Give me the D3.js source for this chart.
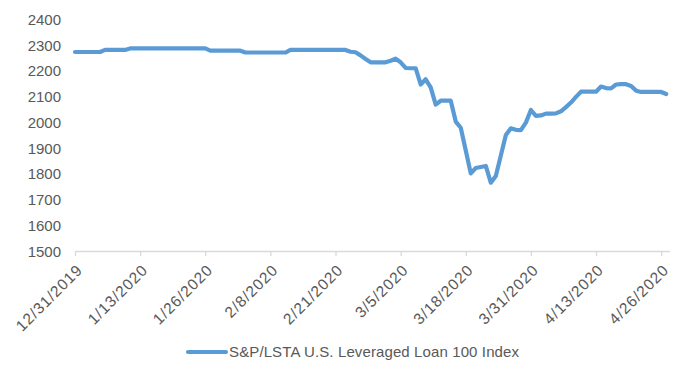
<!DOCTYPE html>
<html>
<head>
<meta charset="utf-8">
<script src="https://cdn.jsdelivr.net/npm/d3@7/dist/d3.min.js"></script>
<style>
  html, body { margin: 0; padding: 0; background: #fff; }
  svg { display: block; font-family: "Liberation Sans", Arial, sans-serif; }
</style>
</head>
<body>
<svg id="chart" width="700" height="380"></svg>
<script>
// ---- data ----
const startDate = "12/31/2019";
const seriesName = "S&P/LSTA U.S. Leveraged Loan 100 Index";
const indexValues = [
  2272, 2272, 2272, 2272, 2272, 2272, 2280, 2280, 2280, 2280,
  2280, 2286, 2286, 2286, 2286, 2286, 2286, 2286, 2286, 2286,
  2286, 2286, 2286, 2286, 2286, 2286, 2286, 2277, 2277, 2277,
  2277, 2277, 2277, 2277, 2270, 2270, 2270, 2270, 2270, 2270,
  2270, 2270, 2270, 2280, 2280, 2280, 2280, 2280, 2280, 2280,
  2280, 2280, 2280, 2280, 2280, 2273, 2271, 2259, 2245, 2232,
  2232, 2232, 2232, 2238, 2246, 2232, 2210, 2209, 2209, 2146,
  2166, 2135, 2068, 2083, 2083, 2083, 2002, 1978, 1890, 1801,
  1822, 1826, 1830, 1765, 1791, 1870, 1950, 1976, 1970, 1969,
  1998, 2047, 2024, 2026, 2033, 2033, 2034, 2042, 2058, 2076,
  2098, 2118, 2118, 2118, 2118, 2138, 2132, 2131, 2146, 2147,
  2147, 2140, 2122, 2117, 2117, 2117, 2117, 2117, 2109
];
const xTickLabels = ["12/31/2019", "1/13/2020", "1/26/2020", "2/8/2020", "2/21/2020",
                     "3/5/2020", "3/18/2020", "3/31/2020", "4/13/2020", "4/26/2020"];
const yTickValues = [1500, 1600, 1700, 1800, 1900, 2000, 2100, 2200, 2300, 2400];

// ---- build ----
const parse = d3.timeParse("%m/%d/%Y");
const fmt = d3.timeFormat("%-m/%-d/%Y");
const start = parse(startDate);
const data = indexValues.map((v, i) => ({ date: d3.timeDay.offset(start, i), value: v }));
const lastDate = data[data.length - 1].date;

const svg = d3.select("#chart");
const x = d3.scaleTime()
  .domain([start, d3.timeHour.offset(lastDate, 16)])
  .range([75, 669.5]);
const y = d3.scaleLinear().domain([1500, 2400]).range([251, 19]);

const textColor = "#595959";
const axisColor = "#d9d9d9";
const lineColor = "#5b9bd5";

// y axis
const yAxis = svg.append("g")
  .attr("transform", "translate(61,0)")
  .call(d3.axisLeft(y).tickValues(yTickValues).tickSize(0).tickPadding(0).tickFormat(d3.format("d")));
yAxis.select(".domain").remove();
yAxis.selectAll("text")
  .attr("fill", textColor)
  .style("font-size", "15px")
  .attr("dy", "0.35em");

// x axis
const xAxis = svg.append("g")
  .attr("transform", "translate(0,251)")
  .call(d3.axisBottom(x).tickValues(xTickLabels.map(parse)).tickFormat(fmt).tickSizeInner(5).tickSizeOuter(0));
xAxis.select(".domain").attr("stroke", axisColor).attr("stroke-width", 1.3);
xAxis.selectAll(".tick line").attr("stroke", axisColor).attr("stroke-width", 1.3);
xAxis.selectAll("text")
  .attr("fill", textColor)
  .style("font-size", "15.5px")
  .style("letter-spacing", "0.9px")
  .attr("text-anchor", "end")
  .attr("x", 0).attr("y", 0).attr("dy", 0)
  .attr("transform", "translate(8,20) rotate(-45)");

// line
const line = d3.line().x(d => x(d.date)).y(d => y(d.value));
svg.append("path")
  .datum(data)
  .attr("fill", "none")
  .attr("stroke", lineColor)
  .attr("stroke-width", 4.2)
  .attr("stroke-linejoin", "round")
  .attr("stroke-linecap", "round")
  .attr("d", line);

// legend
const lg = svg.append("g").attr("transform", "translate(188,352)");
lg.append("line").attr("x1", 0).attr("x2", 38).attr("y1", 0).attr("y2", 0)
  .attr("stroke", lineColor).attr("stroke-width", 4.2).attr("stroke-linecap", "round");
lg.append("text").attr("x", 41).attr("y", 0).attr("dy", "0.35em")
  .attr("fill", textColor).style("font-size", "15px")
  .attr("textLength", 290).attr("lengthAdjust", "spacing")
  .text(seriesName);
</script>
</body>
</html>
